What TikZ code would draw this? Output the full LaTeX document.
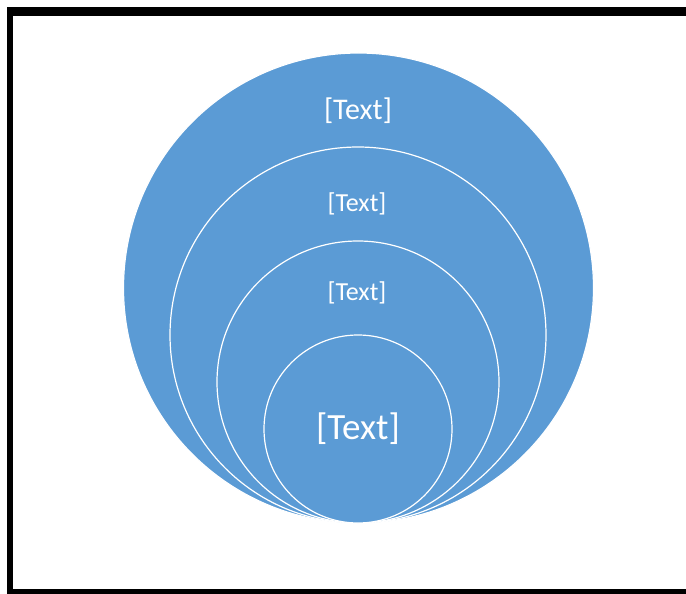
\documentclass[tikz,border=0pt]{standalone}
\usepackage{fontspec}
\setmainfont{Carlito}
\definecolor{ringblue}{HTML}{5B9BD5}
\tikzset{
  ring/.style={circle,fill=ringblue,draw=white,line width=1.2pt,inner sep=0pt},
  ringtext/.style={text=white,inner sep=0pt}
}
\begin{document}
\begin{tikzpicture}[x=1pt,y=-1pt]
  \useasboundingbox (0,0) rectangle (686,594);
  % frame, cut off at the right
  \fill[black] (7,7) rectangle (686,16);
  \fill[black] (7,7) rectangle (13,594);
  \fill[black] (7,589) rectangle (686,594);
  % rings, all touching at the bottom
  \node[ring,minimum size=470pt] (outer) at (358.5,288) {};
  \node[ring,minimum size=376pt] (second) at (358,335) {};
  \node[ring,minimum size=282pt] (third) at (358,382) {};
  \node[ring,minimum size=188pt,ringtext,font=\fontsize{37}{40}\selectfont] (inner) at (358,429) {[Text]};
  \node[ringtext,font=\fontsize{30}{34}\selectfont] (outerlbl) at (358,111) {[Text]};
  \node[ringtext,font=\fontsize{26}{30}\selectfont] (secondlbl) at (357,204) {[Text]};
  \node[ringtext,font=\fontsize{26}{30}\selectfont] (thirdlbl) at (357,293) {[Text]};
\end{tikzpicture}
\end{document}
